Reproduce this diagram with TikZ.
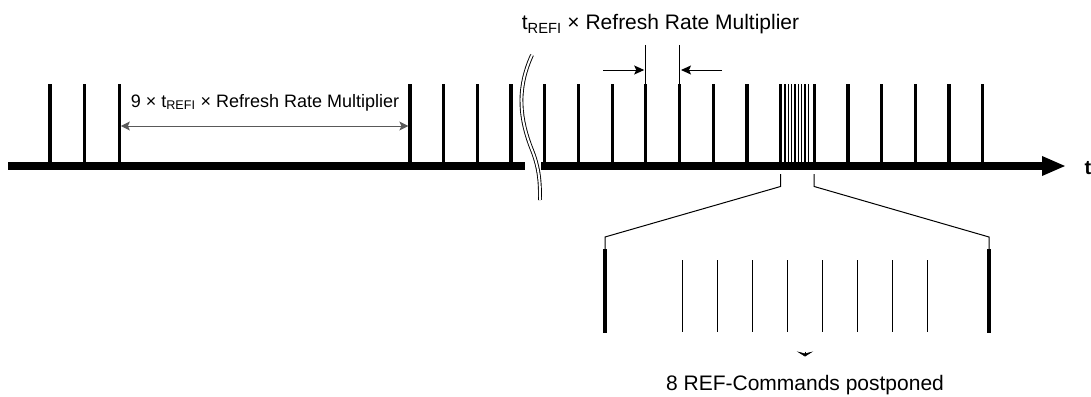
\documentclass[tikz,border=0pt]{standalone}
\usepackage{fontspec}
\setmainfont{Liberation Sans}
\usetikzlibrary{arrows.meta,positioning}

\newcommand{\trefi}{t\textsubscript{REFI}}

\begin{document}
\begin{tikzpicture}[
    x=1pt, y=-1pt,
    font=\fontsize{18}{21}\selectfont,
    axis/.style={line width=8pt, draw=black},
    tick/.style={line width=3.3pt, draw=black},
    slim/.style={line width=1pt, draw=black},
    pulse/.style={line width=1.2pt, draw=black},
    breakmark/.style={line width=0.9pt, draw=black, double=white, double distance=2pt},
    dim/.style={
        {Stealth[length=9pt,width=9pt,inset=2pt]}-{Stealth[length=9pt,width=9pt,inset=2pt]},
        line width=1pt,
        draw=black!65
    },
    pointer/.style={-{Stealth[length=10pt,width=9pt,inset=2pt]}, line width=1pt, draw=black},
    label/.style={anchor=base, inner sep=0pt}
]
\useasboundingbox (0,0) rectangle (1091,396);

% =========================================================
% Time axis
% =========================================================
\draw[axis] (8,166) -- (525,166);
\draw[axis, -{Triangle[length=24pt,width=18pt]}] (541,166) -- (1066,166);
\node[label, anchor=base west, font=\fontsize{20}{24}\selectfont\bfseries] (tlabel) at (1084.5,174) {t};

% Break mark
\draw[breakmark] (532,55) .. controls (516,90) and (520,120) .. (532,150)
    .. controls (540,170) and (540,185) .. (540,200);

% Refresh ticks, left part
\foreach \x in {50,84.7,119.3,410,443.5,477.3,511}
    \draw[tick] (\x,84) -- (\x,164);

% Refresh ticks, right part
\foreach \x in {544.3,578.3,612.3,645.8,679.4,713.3,746.9,780.5,814.2,848,881.5,915.2,949,982.4}
    \draw[tick] (\x,84) -- (\x,164);

% Postponed commands squeezed in
\foreach \i in {0,...,7}
    \draw[pulse] ({785+3.33*\i},84) -- ({785+3.33*\i},164);

% =========================================================
% Interval annotations
% =========================================================
\coordinate (dimL) at (120.9,126);
\coordinate (dimR) at (408.4,126);
\draw[dim] (dimL) -- (dimR);
\node[label] (dimlabel) at (265,107) {9 × \trefi{} × Refresh Rate Multiplier};

\draw[slim] (645.8,45) -- (645.8,84);
\draw[slim] (679.4,45) -- (679.4,84);
\coordinate (inL) at (603,70);
\coordinate (inR) at (722,70);
\coordinate (edgeL) at (644.2,70);
\coordinate (edgeR) at (681,70);
\draw[pointer] (inL) -- (edgeL);
\draw[pointer] (inR) -- (edgeR);
\node[label, font=\fontsize{21}{25}\selectfont] (toplabel) at (660.5,30) {\trefi{} × Refresh Rate Multiplier};

% =========================================================
% Zoomed view
% =========================================================
\draw[slim] (780.5,174) -- (780.5,186.5) -- (605,237) -- (605,249);
\draw[slim] (814.2,174) -- (814.2,186.5) -- (989,237) -- (989,249);
\draw[line width=3.6pt] (605,249) -- (605,333);
\draw[line width=3.6pt] (989,249) -- (989,333);
\foreach \i in {0,...,7}
    \draw[pulse] ({682.4+35.05*\i},260) -- ({682.4+35.05*\i},332);

\coordinate (tipA) at (805,351.5);
\coordinate (tipB) at (805,356.5);
\draw[-{Stealth[length=5pt,width=16pt,inset=2pt]}, line width=0.5pt] (tipA) -- (tipB);
\node[label, font=\fontsize{21}{25}\selectfont] (postponed) at (805,390) {8 REF-Commands postponed};

\end{tikzpicture}
\end{document}
